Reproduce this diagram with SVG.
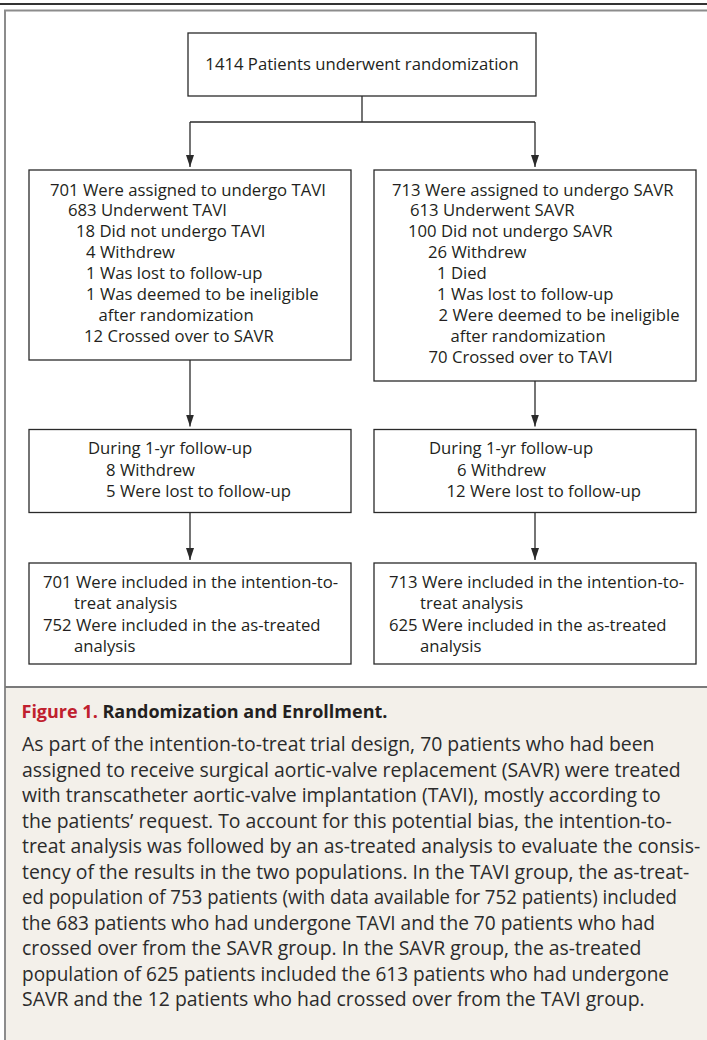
<svg xmlns="http://www.w3.org/2000/svg" width="707" height="1040" viewBox="0 0 707 1040">
<defs>
<style>
.box{fill:#ffffff;stroke:#2a2a2a;stroke-width:1.3}
.t{font-family:"Open Sans","Noto Sans","Liberation Sans",sans-serif;font-size:16.7px;fill:#231f20}
.c{font-family:"Open Sans","Noto Sans","Liberation Sans",sans-serif;font-size:19.4px;fill:#2b2b2b}
.h{font-family:"Open Sans","Noto Sans","Liberation Sans",sans-serif;font-size:18px;font-weight:bold;fill:#231f20}
.red{fill:#c0202e}
.ln{fill:none;stroke:#2a2a2a;stroke-width:1.3}
</style>
<marker id="arr" markerUnits="userSpaceOnUse" markerWidth="12" markerHeight="10" refX="12" refY="4" orient="auto">
<path d="M0,0 L12,4 L0,8 Z" fill="#2a2a2a"/>
</marker>
</defs>
<rect x="0" y="0" width="707" height="1040" fill="#ffffff"/>
<line x1="0" y1="4" x2="707" y2="4" stroke="#333333" stroke-width="2"/>
<rect x="5" y="10.5" width="720" height="1050" fill="#ffffff" stroke="#8c8c8c" stroke-width="2"/>
<rect x="6" y="687" width="710" height="360" fill="#f3f0ea"/>
<line x1="5" y1="687" x2="707" y2="687" stroke="#7a7a7a" stroke-width="2"/>

<g id="connectors">
<line class="ln" x1="362" y1="96" x2="362" y2="122"/>
<line class="ln" x1="190" y1="122" x2="535" y2="122"/>
<line class="ln" x1="190" y1="122" x2="190" y2="167" marker-end="url(#arr)"/>
<line class="ln" x1="535" y1="122" x2="535" y2="167" marker-end="url(#arr)"/>
<line class="ln" x1="190" y1="360" x2="190" y2="426.5" marker-end="url(#arr)"/>
<line class="ln" x1="535" y1="381" x2="535" y2="426.5" marker-end="url(#arr)"/>
<line class="ln" x1="190" y1="512.5" x2="190" y2="560" marker-end="url(#arr)"/>
<line class="ln" x1="535" y1="512.5" x2="535" y2="560" marker-end="url(#arr)"/>
</g>

<g id="randomization">
<rect class="box" x="188" y="33" width="348" height="63"/>
<text class="t" x="362" y="70" text-anchor="middle">1414 Patients underwent randomization</text>
</g>

<g id="tavi-assigned">
<rect class="box" x="29" y="170" width="322" height="190"/>
<text class="t" x="50" y="195.5">701 Were assigned to undergo TAVI</text>
<text class="t" x="68" y="216.4">683 Underwent TAVI</text>
<text class="t" x="76" y="237.3">18 Did not undergo TAVI</text>
<text class="t" x="86" y="258.2">4 Withdrew</text>
<text class="t" x="86" y="279.1">1 Was lost to follow-up</text>
<text class="t" x="86" y="300">1 Was deemed to be ineligible</text>
<text class="t" x="98.5" y="320.9">after randomization</text>
<text class="t" x="84" y="341.8">12 Crossed over to SAVR</text>
</g>

<g id="savr-assigned">
<rect class="box" x="374" y="170" width="322" height="211"/>
<text class="t" x="392" y="195.5">713 Were assigned to undergo SAVR</text>
<text class="t" x="410" y="216.4">613 Underwent SAVR</text>
<text class="t" x="408" y="237.3">100 Did not undergo SAVR</text>
<text class="t" x="428" y="258.2">26 Withdrew</text>
<text class="t" x="437" y="279.1">1 Died</text>
<text class="t" x="437" y="300">1 Was lost to follow-up</text>
<text class="t" x="438.5" y="320.9">2 Were deemed to be ineligible</text>
<text class="t" x="450.5" y="341.8">after randomization</text>
<text class="t" x="428.5" y="362.7">70 Crossed over to TAVI</text>
</g>

<g id="tavi-followup">
<rect class="box" x="29" y="429.5" width="322" height="83"/>
<text class="t" x="88" y="454.3">During 1-yr follow-up</text>
<text class="t" x="106" y="475.8">8 Withdrew</text>
<text class="t" x="106" y="497.3">5 Were lost to follow-up</text>
</g>

<g id="savr-followup">
<rect class="box" x="374" y="429.5" width="322" height="83"/>
<text class="t" x="429" y="454.3">During 1-yr follow-up</text>
<text class="t" x="457" y="475.8">6 Withdrew</text>
<text class="t" x="446.5" y="497.3">12 Were lost to follow-up</text>
</g>

<g id="tavi-analysis">
<rect class="box" x="29" y="563" width="322" height="101"/>
<text class="t" x="43" y="587.5">701 Were included in the intention-to-</text>
<text class="t" x="74" y="609">treat analysis</text>
<text class="t" x="43" y="630.5">752 Were included in the as-treated</text>
<text class="t" x="74" y="652">analysis</text>
</g>

<g id="savr-analysis">
<rect class="box" x="374" y="563" width="322" height="101"/>
<text class="t" x="389" y="587.5">713 Were included in the intention-to-</text>
<text class="t" x="420" y="609">treat analysis</text>
<text class="t" x="389" y="630.5">625 Were included in the as-treated</text>
<text class="t" x="420" y="652">analysis</text>
</g>

<g id="caption">
<text class="h" x="21.5" y="718"><tspan class="red">Figure 1.</tspan> Randomization and Enrollment.</text>
<text class="c" x="22" y="751">As part of the intention-to-treat trial design, 70 patients who had been</text>
<text class="c" x="22" y="776.5">assigned to receive surgical aortic-valve replacement (SAVR) were treated</text>
<text class="c" x="22" y="802">with transcatheter aortic-valve implantation (TAVI), mostly according to</text>
<text class="c" x="22" y="827.5">the patients’ request. To account for this potential bias, the intention-to-</text>
<text class="c" x="22" y="853">treat analysis was followed by an as-treated analysis to evaluate the consis-</text>
<text class="c" x="22" y="878.5">tency of the results in the two populations. In the TAVI group, the as-treat-</text>
<text class="c" x="22" y="904" textLength="655" lengthAdjust="spacingAndGlyphs">ed population of 753 patients (with data available for 752 patients) included</text>
<text class="c" x="22" y="929.5" textLength="633" lengthAdjust="spacingAndGlyphs">the 683 patients who had undergone TAVI and the 70 patients who had</text>
<text class="c" x="22" y="955">crossed over from the SAVR group. In the SAVR group, the as-treated</text>
<text class="c" x="22" y="980.5" textLength="647" lengthAdjust="spacingAndGlyphs">population of 625 patients included the 613 patients who had undergone</text>
<text class="c" x="22" y="1006">SAVR and the 12 patients who had crossed over from the TAVI group.</text>
</g>
</svg>
